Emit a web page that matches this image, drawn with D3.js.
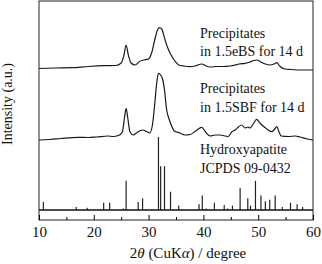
<!DOCTYPE html>
<html>
<head>
<meta charset="utf-8">
<script src="https://cdn.jsdelivr.net/npm/d3@7"></script>
<style>
  body { margin: 0; background: #fff; }
</style>
</head>
<body>
<div id="chart"></div>
<script>
// Chart dimensions
const width = 322;
const height = 264;
const margin = { top: 1, right: 9, bottom: 44, left: 39 };
const serif = "'Liberation Serif', 'Times New Roman', Times, serif";

// Precipitates in 1.5eBS (2theta, intensity a.u.)
const ebsAngle = [10, 13, 16, 19, 22, 24, 25, 25.5, 25.9, 26.3, 26.8, 27.5, 28.5, 29.2, 30, 30.6, 31.2, 31.7, 32.0, 32.4, 32.9, 33.5, 34.1, 34.8, 35.5, 36.5, 37.5, 38.5, 39.7, 40.5, 41.2, 42.5, 43.5, 44.9, 45.8, 46.5, 47.6, 48.5, 49.2, 49.8, 50.5, 51.3, 52.2, 52.9, 53.4, 53.9, 54.9, 56, 58, 60];
const ebsIntensity = [151.5, 152, 152.3, 153.5, 154.3, 154.5, 157, 165, 175, 165, 157, 155, 159, 160, 161, 168, 182, 191, 192.3, 191, 182, 172, 165, 159, 155, 154, 153.3, 154, 156, 154, 153, 153.5, 153.5, 154, 155, 156, 156.7, 158, 159.5, 160, 158, 156, 155, 156, 157.3, 154, 151, 150.5, 150, 150];

// Precipitates in 1.5SBF
const sbfAngle = [10, 12, 14, 17.1, 19, 20.5, 22.6, 23.5, 24.5, 25.2, 25.6, 25.9, 26.2, 26.6, 27.2, 27.8, 28.4, 29, 29.6, 30.2, 30.7, 31.1, 31.5, 31.8, 32.2, 32.6, 32.9, 33.3, 33.8, 34.2, 34.7, 35.7, 36.6, 37.6, 38.6, 39.7, 40.4, 41.2, 42.2, 43.0, 44.0, 44.5, 45.2, 45.8, 46.4, 47.0, 47.6, 48.1, 48.5, 49.1, 49.7, 50.3, 51.4, 52.5, 53.0, 53.4, 53.8, 54.2, 55.5, 56.8, 57.6, 59, 60];
const sbfIntensity = [80, 80.5, 81.5, 82.7, 82.5, 83, 84, 83.5, 84.5, 88, 102, 111.7, 102, 88, 85, 87, 89.3, 90, 88.5, 87, 95, 115, 138, 146.7, 145, 140, 130, 110, 100, 94, 89, 87, 85, 85.5, 89, 92.7, 88, 84, 85, 85, 84, 83.3, 88.3, 90, 93, 95, 92, 93, 92, 96, 100.7, 97, 91.7, 88.3, 91, 93.3, 88, 84, 83.5, 84, 83, 81, 80];

// Hydroxyapatite JCPDS 09-0432 (2theta, relative intensity)
const hapAngle = [10.8, 16.8, 18.8, 21.8, 22.9, 25.4, 25.9, 28.1, 28.9, 31.8, 32.2, 32.9, 34.0, 35.5, 39.2, 39.8, 40.5, 42.0, 43.8, 44.4, 45.3, 46.7, 48.1, 48.6, 49.5, 50.5, 51.3, 52.1, 53.1, 54.4, 55.9, 57.1, 58.1];
const hapRel = [11, 4, 3, 10, 10, 2, 40, 11, 16, 100, 60, 60, 25, 6, 8, 20, 2, 10, 7, 2, 6, 30, 16, 6, 40, 20, 12, 14, 20, 4, 10, 8, 4];

const xTicks = [10, 20, 30, 40, 50, 60];

const svg = d3.select("#chart")
    .append("svg")
    .attr("width", width)
    .attr("height", height)
    .style("font-family", serif);

const x = d3.scaleLinear()
    .domain([10, 60])
    .range([margin.left, width - margin.right]);

// intensity in a.u., stacked offsets already in the values
const y = d3.scaleLinear()
    .domain([0, 219])
    .range([height - margin.bottom, margin.top]);

// stick pattern scale
const yStick = d3.scaleLinear()
    .domain([0, 100])
    .range([210, 137]);

const line = d3.line()
    .x(d => x(d[0]))
    .y(d => y(d[1]))
    .curve(d3.curveMonotoneX);

const ebs = ebsAngle.map((a, i) => [a, ebsIntensity[i]]);
const sbf = sbfAngle.map((a, i) => [a, sbfIntensity[i]]);

[ebs, sbf].forEach(series => {
    svg.append("path")
        .datum(series)
        .attr("fill", "none")
        .attr("stroke", "#1a1a1a")
        .attr("stroke-width", 1.2)
        .attr("d", line);
});

// reference sticks
svg.selectAll("line.stick")
    .data(hapAngle.map((a, i) => ({ a, r: hapRel[i] })))
    .enter()
    .append("line")
    .attr("class", "stick")
    .attr("x1", d => x(d.a))
    .attr("x2", d => x(d.a))
    .attr("y1", yStick(0))
    .attr("y2", d => yStick(d.r))
    .attr("stroke", "#222")
    .attr("stroke-width", 1.2);

svg.append("line")
    .attr("x1", x(10))
    .attr("x2", x(60))
    .attr("y1", yStick(0))
    .attr("y2", yStick(0))
    .attr("stroke", "#111")
    .attr("stroke-width", 1.6);

// frame
svg.append("rect")
    .attr("x", margin.left)
    .attr("y", margin.top)
    .attr("width", width - margin.left - margin.right)
    .attr("height", height - margin.top - margin.bottom)
    .attr("fill", "none")
    .attr("stroke", "#222")
    .attr("stroke-width", 1);

// x axis, ticks inward
const xAxis = svg.append("g")
    .attr("transform", `translate(0, ${height - margin.bottom})`)
    .call(d3.axisBottom(x).tickValues(xTicks).tickSizeInner(-5).tickSizeOuter(0).tickPadding(6));
xAxis.select(".domain").remove();
xAxis.selectAll("text")
    .style("font-family", serif)
    .style("font-size", "15px")
    .attr("fill", "#111");

svg.append("g")
    .attr("transform", `translate(0, ${height - margin.bottom})`)
    .call(d3.axisBottom(x).tickValues(d3.range(15, 60, 10)).tickSize(-3).tickFormat(""))
    .select(".domain").remove();

// axis titles
const xt = svg.append("text")
    .attr("x", 188)
    .attr("y", 258)
    .style("text-anchor", "middle")
    .style("font-family", serif)
    .style("font-size", "15px")
    .attr("fill", "#111");
xt.append("tspan").text("2");
xt.append("tspan").style("font-style", "italic").text("θ");
xt.append("tspan").text(" (CuK");
xt.append("tspan").style("font-style", "italic").text("α");
xt.append("tspan").text(") / degree");

svg.append("text")
    .attr("transform", "rotate(-90)")
    .attr("x", -104)
    .attr("y", 12)
    .style("text-anchor", "middle")
    .style("font-family", serif)
    .style("font-size", "14px")
    .attr("fill", "#111")
    .text("Intensity (a.u.)");

// annotations
const labels = [
    ["Precipitates", 38], ["in 1.5eBS for 14 d", 56],
    ["Precipitates", 93], ["in 1.5SBF for 14 d", 112],
    ["Hydroxyapatite", 154], ["JCPDS 09-0432", 173]
];
svg.selectAll("text.note")
    .data(labels)
    .enter()
    .append("text")
    .attr("class", "note")
    .attr("x", 200)
    .attr("y", d => d[1])
    .style("font-family", serif)
    .style("font-size", "14px")
    .attr("fill", "#111")
    .text(d => d[0]);
</script>
</body>
</html>
